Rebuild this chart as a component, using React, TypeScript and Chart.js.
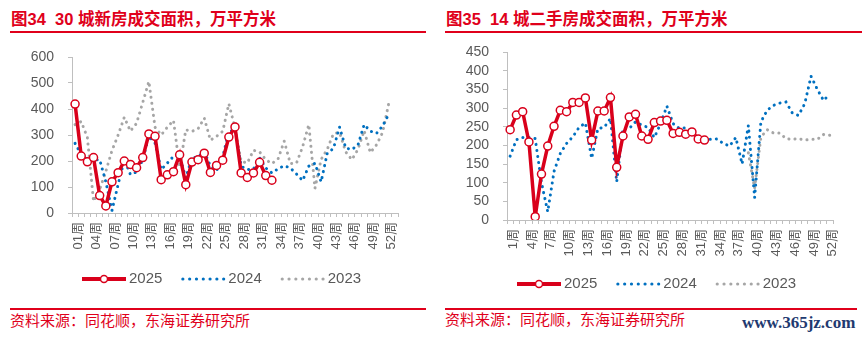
import React, { useEffect, useRef } from 'react';
import { Chart, registerables } from 'chart.js';

Chart.register(...registerables);

const FONT = '"Liberation Sans", Arial, "Noto Sans CJK SC", sans-serif';
const RED = '#D9001B';
const TITLE_RED = '#E0001B';
const BLUE = '#0070C0';
const GRAY = '#A6A6A6';
const TEXT = '#595959';
const AXIS = '#BFBFBF';

// ---- Categories ----
const weeksNew: string[] = Array.from({ length: 53 }, (_, i) => String(i + 1).padStart(2, '0') + '周');
const weeksSecond: string[] = Array.from({ length: 52 }, (_, i) => String(i + 1) + '周');

// ---- Chart 34: 30 城新房成交面积 (万平方米) ----
const newHome2025 = [419, 219, 197, 213, 67, 27, 120, 155, 200, 187, 174, 213, 304, 295, 128, 147, 159, 224, 109, 196, 205, 230, 156, 183, 203, 292, 331, 154, 137, 154, 195, 144, 126];
const newHome2024 = [268, 225, 205, 205, 205, 120, 10, 110, 205, 148, 158, 205, 295, 269, 167, 192, 218, 218, 135, 212, 215, 237, 180, 163, 215, 314, 320, 180, 167, 169, 212, 173, 154, 170, 182, 173, 150, 125, 180, 191, 120, 230, 248, 330, 250, 244, 262, 340, 315, 306, 335, 380];
const newHome2023 = [340, 352, 290, 45, 90, 160, 240, 300, 368, 315, 345, 425, 506, 330, 300, 330, 356, 175, 320, 314, 324, 365, 280, 295, 314, 420, 327, 199, 192, 241, 235, 205, 190, 208, 276, 190, 192, 255, 340, 95, 206, 245, 305, 310, 235, 205, 245, 317, 232, 262, 310, 422];
const newHomeYTicks = [0, 100, 200, 300, 400, 500, 600];

// ---- Chart 35: 14 城二手房成交面积 (万平方米) ----
const second2025 = [242, 281, 290, 209, 9, 123, 198, 251, 294, 290, 315, 315, 327, 214, 292, 292, 328, 141, 225, 276, 283, 225, 216, 261, 265, 267, 232, 235, 230, 236, 217, 214];
const second2024 = [171, 215, 221, 221, 218, 100, 22, 130, 178, 205, 223, 248, 260, 165, 245, 248, 272, 102, 245, 245, 263, 254, 248, 221, 258, 305, 258, 245, 247, 238, 218, 216, 216, 217, 205, 198, 221, 150, 253, 60, 263, 294, 307, 313, 316, 287, 280, 312, 385, 350, 320, 338];
const second2023Known = [180, 85, 222, 242, 233, 233, 218, 216, 218, 214, 216, 216, 229, 227];
const second2023: (number | null)[] = (Array(38).fill(null) as (number | null)[]).concat(second2023Known);
const secondYTicks = [0, 50, 100, 150, 200, 250, 300, 350, 400, 450];

const legendPlugin = {
  id: 'lineLegend',
  afterDraw(chart: any, _args: any, opts: any) {
    const ctx = chart.ctx as CanvasRenderingContext2D;
    let x = opts.x;
    const y = opts.y;
    ctx.save();
    ctx.font = `15px ${FONT}`;
    ctx.textBaseline = 'middle';
    ctx.textAlign = 'left';
    chart.data.datasets.forEach((ds: any) => {
      const color = ds.borderColor;
      if (ds.pointRadius > 0) {
        ctx.setLineDash([]);
        ctx.strokeStyle = color;
        ctx.lineWidth = 4;
        ctx.beginPath();
        ctx.moveTo(x, y);
        ctx.lineTo(x + 44, y);
        ctx.stroke();
        ctx.beginPath();
        ctx.arc(x + 22, y, 3.5, 0, Math.PI * 2);
        ctx.fillStyle = '#fff';
        ctx.fill();
        ctx.lineWidth = 1.5;
        ctx.stroke();
      } else {
        ctx.fillStyle = color;
        for (let i = 0; i < 7; i++) {
          ctx.beginPath();
          ctx.arc(x + 1.5 + i * 6.8, y, 1.6, 0, Math.PI * 2);
          ctx.fill();
        }
      }
      ctx.fillStyle = TEXT;
      ctx.fillText(ds.label, x + 47, y);
      x += 47 + ctx.measureText(ds.label).width + 19;
    });
    ctx.restore();
  },
};

type PanelProps = {
  left: number;
  labels: string[];
  s2025: (number | null)[];
  s2024: (number | null)[];
  s2023: (number | null)[];
  yTicks: number[];
  padTop: number;
  xHeight: number;
  legendY: number;
};

function Panel(p: PanelProps) {
  const ref = useRef<HTMLCanvasElement>(null);
  useEffect(() => {
    const chart = new Chart(ref.current as HTMLCanvasElement, {
      type: 'line',
      data: {
        labels: p.labels,
        datasets: [
          {
            label: '2025',
            data: p.s2025,
            borderColor: RED,
            backgroundColor: RED,
            borderWidth: 3.5,
            pointRadius: 4,
            pointBackgroundColor: '#fff',
            pointBorderColor: RED,
            pointBorderWidth: 1.5,
            tension: 0,
            fill: false,
          },
          {
            label: '2024',
            data: p.s2024,
            borderColor: BLUE,
            backgroundColor: BLUE,
            borderWidth: 3,
            borderDash: [0.1, 6],
            borderCapStyle: 'round',
            pointRadius: 0,
            tension: 0,
            fill: false,
          },
          {
            label: '2023',
            data: p.s2023,
            borderColor: GRAY,
            backgroundColor: GRAY,
            borderWidth: 3,
            borderDash: [0.1, 6],
            borderCapStyle: 'round',
            pointRadius: 0,
            tension: 0,
            fill: false,
          },
        ],
      } as any,
      options: {
        responsive: false,
        animation: false,
        devicePixelRatio: 1,
        layout: { padding: { top: p.padTop, right: 32, bottom: 0, left: 0 } },
        font: { family: FONT },
        plugins: {
          legend: { display: false },
          tooltip: { enabled: false },
          lineLegend: { x: 82, y: p.legendY },
        } as any,
        scales: {
          x: {
            type: 'category',
            offset: true,
            grid: { display: true, drawOnChartArea: false, drawTicks: true, tickLength: 4, color: AXIS, offset: true },
            border: { display: true, color: AXIS, width: 1 },
            ticks: {
              autoSkip: false,
              maxRotation: 90,
              minRotation: 90,
              padding: 5,
              labelOffset: 3,
              color: TEXT,
              font: { size: 13, family: FONT },
              callback: function (this: any, v: any, i: number) {
                return i % 3 === 0 ? this.getLabelForValue(v) : '';
              },
            },
            afterFit: (s: any) => {
              s.height = p.xHeight;
              s.paddingLeft = 0;
              s.paddingRight = 0;
            },
          },
          y: {
            min: p.yTicks[0],
            max: p.yTicks[p.yTicks.length - 1],
            grid: { display: true, drawOnChartArea: false, drawTicks: true, tickLength: 4, color: AXIS },
            border: { display: true, color: AXIS, width: 1 },
            ticks: { autoSkip: false, padding: 14, color: TEXT, font: { size: 14, family: FONT } },
            afterBuildTicks: (s: any) => {
              s.ticks = p.yTicks.map((v) => ({ value: v }));
            },
            afterFit: (s: any) => {
              s.width = 72;
              s.paddingTop = 0;
              s.paddingBottom = 0;
            },
          },
        },
      } as any,
      plugins: [legendPlugin as any],
    });
    return () => chart.destroy();
  }, []);
  return (
    <canvas
      ref={ref}
      width={430}
      height={260}
      style={{ position: 'absolute', left: p.left, top: 40, width: 430, height: 260 }}
    />
  );
}

const titleStyle: React.CSSProperties = {
  position: 'absolute',
  top: 9,
  fontFamily: FONT,
  fontWeight: 'bold',
  fontSize: 16.5,
  lineHeight: '20px',
  color: TITLE_RED,
  whiteSpace: 'pre',
};

const sourceStyle: React.CSSProperties = {
  position: 'absolute',
  fontFamily: FONT,
  fontSize: 15,
  lineHeight: '18px',
  color: TITLE_RED,
  whiteSpace: 'pre',
};

export default function App() {
  return (
    <div style={{ position: 'absolute', left: 0, top: 0, width: 865, height: 340, background: '#fff', overflow: 'hidden' }}>
      <div style={{ ...titleStyle, left: 11 }}>{'图34  30 城新房成交面积，万平方米'}</div>
      <div style={{ position: 'absolute', left: 10, top: 31, width: 416, height: 2, background: TITLE_RED }} />
      <div style={{ ...titleStyle, left: 446 }}>{'图35  14 城二手房成交面积，万平方米'}</div>
      <div style={{ position: 'absolute', left: 445, top: 31, width: 417, height: 2, background: TITLE_RED }} />

      <Panel
        left={0}
        labels={weeksNew}
        s2025={newHome2025}
        s2024={newHome2024}
        s2023={newHome2023}
        yTicks={newHomeYTicks}
        padTop={17}
        xHeight={87}
        legendY={239}
      />
      <Panel
        left={435}
        labels={weeksSecond}
        s2025={second2025}
        s2024={second2024}
        s2023={second2023}
        yTicks={secondYTicks}
        padTop={12}
        xHeight={80}
        legendY={244}
      />

      <div style={{ position: 'absolute', left: 10, top: 308, width: 416, height: 1.5, background: TITLE_RED }} />
      <div style={{ ...sourceStyle, left: 10, top: 312 }}>{'资料来源：同花顺，东海证券研究所'}</div>
      <div style={{ position: 'absolute', left: 445, top: 308, width: 412, height: 1.5, background: TITLE_RED }} />
      <div style={{ ...sourceStyle, left: 445, top: 311 }}>{'资料来源：同花顺，东海证券研究所'}</div>
      <div
        style={{
          position: 'absolute',
          left: 742,
          top: 313,
          fontFamily: '"Liberation Serif", "DejaVu Serif", serif',
          fontWeight: 'bold',
          fontSize: 17,
          lineHeight: '20px',
          color: '#1F3A70',
          whiteSpace: 'pre',
        }}
      >
        {'www.365jz.com'}
      </div>
    </div>
  );
}
